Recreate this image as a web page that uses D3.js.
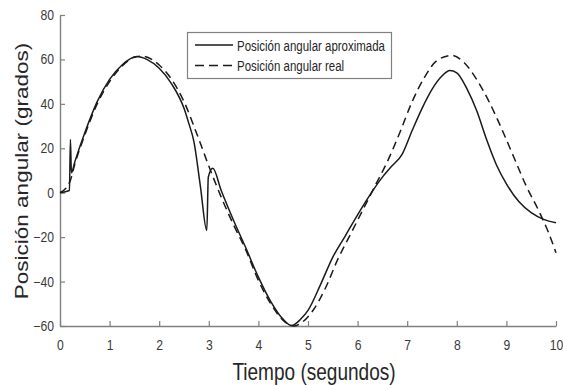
<!DOCTYPE html>
<html>
<head>
<meta charset="utf-8">
<script src="https://cdn.jsdelivr.net/npm/d3@7"></script>
<style>
  body { margin: 0; background: #fff; }
  svg { display: block; font-family: "Liberation Sans", Arial, sans-serif; }
</style>
</head>
<body>
<div id="container"></div>
<script>
var width = 563;
var height = 385;

// approximated position (solid line)
var tAprox = [0, 0.19, 0.21, 0.23, 0.3, 0.5, 0.75, 1.0, 1.25, 1.55, 1.75, 2.0, 2.25, 2.5, 2.6, 2.7,
  2.83, 2.96, 2.99, 3.08, 3.25, 3.5, 3.75, 4.0, 4.25, 4.5, 4.67, 4.85, 5.0, 5.25, 5.5, 5.75,
  6.0, 6.15, 6.25, 6.5, 6.7, 6.9, 7.1, 7.3, 7.5, 7.7, 7.86, 8.0, 8.2, 8.4, 8.6, 8.8, 9.0, 9.25,
  9.5, 9.75, 10];
var vAprox = [0, 1, 24, 9, 14, 27, 41, 51, 57.5, 61.3, 60, 56, 49, 38, 31, 23,
  3, -17, 7, 11, 1, -12.5, -25, -38, -49, -57, -59.8, -57, -53, -41.5, -29, -19.5,
  -10, -4.5, -1, 7, 12.2, 17.4, 28, 38, 46.5, 52.5, 55, 54, 47, 37, 24, 12.5, 4, -4,
  -9, -12, -13.5];

// real position (dashed line)
var tReal = [0, 0.2, 0.3, 0.5, 0.75, 1.0, 1.25, 1.5, 1.65, 1.85, 2.0, 2.25, 2.5, 2.75,
  3.0, 3.25, 3.5, 3.75, 4.0, 4.25, 4.5, 4.72, 4.9, 5.1, 5.35, 5.6, 5.85, 6.1, 6.35,
  6.6, 6.85, 7.1, 7.35, 7.6, 7.9, 8.15, 8.4, 8.65, 8.9, 9.15, 9.4, 9.65, 9.85, 10];
var vReal = [0, 5, 13, 26, 40, 50, 57, 61, 61.5, 60, 57.5, 51, 41, 27,
  12, -2, -14.5, -26, -39.5, -50, -57.5, -60, -58, -53, -43, -30, -19, -8, 3,
  14, 27, 41, 52, 59.5, 61.8, 58.5, 51, 41, 29, 16, 3, -8, -18, -27];

var xTicks = [0, 1, 2, 3, 4, 5, 6, 7, 8, 9, 10];
var yTicks = [-60, -40, -20, 0, 20, 40, 60, 80];
var legendLabels = ["Posición angular aproximada", "Posición angular real"];

var svg = d3.select("div#container").append("svg")
    .attr("width", width)
    .attr("height", height);

var x = d3.scaleLinear().domain([0, 10]).range([60, 556]);
var y = d3.scaleLinear().domain([-60, 80]).range([326, 15]);

var axisColor = "#808080";
var tickText = "#3a3a3a";

// axes (ticks point inward like matlab)
var xAxis = svg.append("g")
    .attr("transform", "translate(0," + y(-60) + ")")
    .call(d3.axisBottom(x).tickValues(xTicks).tickSizeInner(-5).tickSizeOuter(0).tickPadding(14));
var yAxis = svg.append("g")
    .attr("transform", "translate(" + x(0) + ",0)")
    .call(d3.axisLeft(y).tickValues(yTicks).tickSizeInner(-5).tickSizeOuter(0).tickPadding(7));

[xAxis, yAxis].forEach(function(g) {
  g.select(".domain").attr("stroke", axisColor).attr("stroke-width", 1.4);
  g.selectAll(".tick line").attr("stroke", axisColor).attr("stroke-width", 1.2);
  g.selectAll(".tick text")
    .attr("fill", tickText)
    .style("font-size", "14px")
    .style("font-family", "'Liberation Sans', Arial, sans-serif")
    .attr("transform", "scale(0.87,1)");
});

var line = d3.line()
    .x(function(d) { return x(d[0]); })
    .y(function(d) { return y(d[1]); })
    .curve(d3.curveMonotoneX);

var realData = tReal.map(function(t, i) { return [t, vReal[i]]; });
var aproxData = tAprox.map(function(t, i) { return [t, vAprox[i]]; });

svg.append("path")
    .datum(realData)
    .attr("fill", "none")
    .attr("stroke", "#1a1a1a")
    .attr("stroke-width", 1.5)
    .attr("stroke-dasharray", "8,5")
    .attr("d", line);

svg.append("path")
    .datum(aproxData)
    .attr("fill", "none")
    .attr("stroke", "#1a1a1a")
    .attr("stroke-width", 1.5)
    .attr("d", line);

// axis labels
svg.append("text")
    .attr("transform", "translate(314,380) scale(0.81,1)")
    .attr("text-anchor", "middle")
    .attr("fill", "#262626")
    .style("font-size", "23.5px")
    .text("Tiempo (segundos)");

svg.append("text")
    .attr("transform", "translate(28,171) rotate(-90) scale(1,0.81)")
    .attr("text-anchor", "middle")
    .attr("fill", "#262626")
    .style("font-size", "22.5px")
    .text("Posición angular (grados)");

// legend
var legend = svg.append("g").attr("class", "legendWrapper");
legend.append("rect")
    .attr("x", 187.5).attr("y", 32.5)
    .attr("width", 204).attr("height", 46)
    .attr("fill", "#fff")
    .attr("stroke", axisColor)
    .attr("stroke-width", 1.2);

legendLabels.forEach(function(lbl, i) {
  var ly = 45 + i * 20.5;
  legend.append("line")
      .attr("x1", 195).attr("x2", 233)
      .attr("y1", ly).attr("y2", ly)
      .attr("stroke", "#1a1a1a")
      .attr("stroke-width", 1.5)
      .attr("stroke-dasharray", i === 1 ? "9,5" : null);
  legend.append("text")
      .attr("transform", "translate(237," + (ly + 5.5) + ") scale(0.82,1)")
      .attr("fill", "#262626")
      .style("font-size", "14px")
      .text(lbl);
});
</script>
</body>
</html>
